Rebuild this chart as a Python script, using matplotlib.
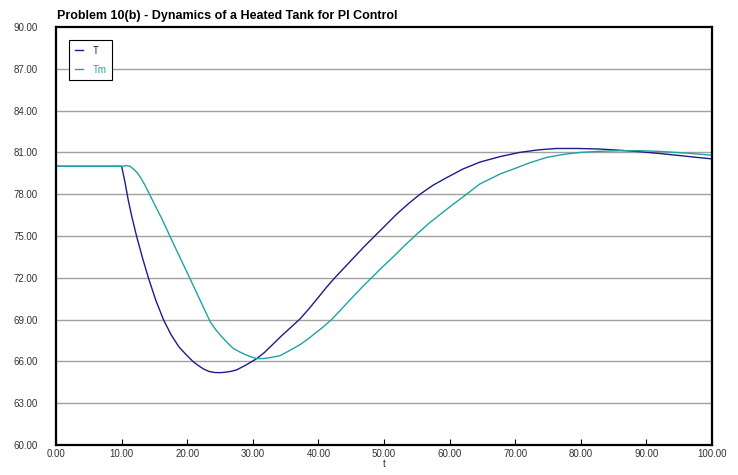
"""Heated tank PI control: T and Tm versus t."""

import matplotlib
matplotlib.use('Agg')
import matplotlib.pyplot as plt

# Values
t_T = [0, 10, 10.5, 11, 11.6, 12.3, 13.2, 14.1, 15.2, 16.4, 17.5, 18.7,
       19.8, 20.9, 21.7, 22.5, 23.3, 24.2, 25.0, 25.8, 26.6, 27.5, 29,
       30.6, 31.8, 33, 34.3, 35.7, 37.2, 38.6, 40, 41.2, 42.5, 44, 45.5,
       47, 48.6, 50.3, 52, 53.8, 55.5, 57.5, 59.6, 62, 64.6, 67.7, 70.7,
       73.5, 76.3, 79.6, 82.9, 86, 89, 92, 95.1, 97.5, 100]
T = [80, 80, 78.9, 77.6, 76.3, 74.95, 73.4, 71.97, 70.4, 68.97, 67.95,
     67.06, 66.5, 65.98, 65.7, 65.45, 65.28, 65.2, 65.19, 65.22, 65.28,
     65.38, 65.75, 66.2, 66.65, 67.2, 67.8, 68.4, 69.05, 69.8, 70.6,
     71.3, 72, 72.75, 73.5, 74.25, 75, 75.8, 76.6, 77.35, 78, 78.65,
     79.2, 79.8, 80.3, 80.7, 81.0, 81.18, 81.28, 81.28, 81.24, 81.15,
     81.05, 80.92, 80.77, 80.65, 80.53]

t_Tm = [0, 10, 10.4, 10.8, 11.3, 11.8, 12.3, 12.8, 13.5, 14.3, 15.2,
        16.1, 17.4, 18.9, 20.4, 22, 23.5, 24.3, 25.2, 26.1, 27.0, 27.9,
        28.8, 29.7, 30.6, 31.6, 32.6, 34.1, 35.7, 37.2, 38.4, 39.6, 40.8,
        42.0, 43.5, 45, 46.5, 48.1, 49.7, 51.4, 53, 54.7, 56.7, 58.7,
        60.6, 62.6, 64.6, 67.7, 69.7, 72.2, 74.8, 77.3, 79.9, 83, 86,
        89, 92.1, 96, 100]
Tm = [80, 80, 80.02, 80.05, 80.0, 79.8, 79.58, 79.26, 78.7, 77.95,
      77.1, 76.27, 74.95, 73.45, 71.97, 70.35, 68.85, 68.3, 67.8, 67.35,
      66.94, 66.7, 66.5, 66.33, 66.2, 66.2, 66.27, 66.4, 66.8, 67.2,
      67.6, 68.05, 68.5, 69, 69.75, 70.5, 71.25, 72, 72.75, 73.5, 74.25,
      75, 75.85, 76.6, 77.3, 78, 78.73, 79.45, 79.8, 80.25, 80.64, 80.85,
      81.0, 81.08, 81.12, 81.12, 81.07, 80.95, 80.8]

x_ticks = [0, 10, 20, 30, 40, 50, 60, 70, 80, 90, 100]
y_ticks = [60, 63, 66, 69, 72, 75, 78, 81, 84, 87, 90]

plt.rcParams['font.family'] = ['Liberation Sans', 'DejaVu Sans']

fig = plt.figure(figsize=(7.38, 4.75), dpi=100)
ax = fig.add_axes([0.0759, 0.0632, 0.8889, 0.88])

ax.plot(t_T, T, color='#1c1c8c', lw=1.0, label='T')
ax.plot(t_Tm, Tm, color='#1fa3a3', lw=1.0, label='Tm')

ax.set_xlim(0, 100)
ax.set_ylim(60, 90)

# Horizontal grid only
for y in y_ticks[1:-1]:
    ax.axhline(y, color='#a0a0a0', lw=1.0, zorder=0)

ax.set_xticks(x_ticks)
ax.set_xticklabels([f'{v:.2f}' for v in x_ticks])
ax.set_yticks(y_ticks)
ax.set_yticklabels([f'{v:.2f}' for v in y_ticks])
ax.tick_params(axis='x', direction='in', length=4, width=0.8,
               labelsize=7, labelcolor='#333333', pad=3)
ax.tick_params(axis='y', length=0, labelsize=7, labelcolor='#333333',
               pad=13)

for s in ax.spines.values():
    s.set_linewidth(1.6)
    s.set_color('black')

ax.set_xlabel('t', fontsize=7, color='#333333', labelpad=0)

fig.text(0.0772, 0.966, 'Problem 10(b) - Dynamics of a Heated Tank for PI Control',
         fontsize=9, fontweight='bold', ha='left', va='center')

leg = ax.legend(loc='upper left', bbox_to_anchor=(0.02, 0.969),
                borderaxespad=0, fontsize=7, handlelength=0.8,
                handletextpad=1.0, borderpad=0.6, labelspacing=0.9,
                fancybox=False, edgecolor='black', framealpha=1)
leg.get_frame().set_linewidth(0.8)
for txt, line in zip(leg.get_texts(), leg.get_lines()):
    txt.set_color(line.get_color())

fig.savefig('out.png', dpi=100)
